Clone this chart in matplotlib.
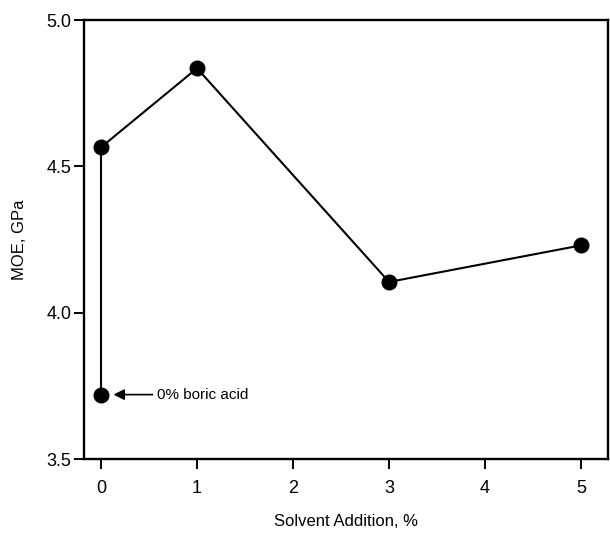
import matplotlib
matplotlib.use("Agg")
import matplotlib.pyplot as plt

plt.rcParams['font.family'] = ['Liberation Sans', 'DejaVu Sans']

solvent = [0, 0, 1, 3, 5]
moe = [3.72, 4.565, 4.835, 4.105, 4.23]
xticks = [0, 1, 2, 3, 4, 5]
yticks = [3.5, 4.0, 4.5, 5.0]
ytick_labels = ["3.5", "4.0", "4.5", "5.0"]

fig = plt.figure(figsize=(6.10, 5.34), dpi=100)
ax = fig.add_axes([84/610, 1-459/534, (608-84)/610, (459-20)/534])

ax.plot(solvent, moe, color='black', lw=1.5, marker='o', ms=10.5,
        markerfacecolor='black', markeredgecolor='black', zorder=3)

ax.set_xlim(-0.177, 5.28)
ax.set_ylim(3.5, 5.0)
ax.set_xticks(xticks)
ax.set_yticks(yticks)
ax.set_yticklabels(ytick_labels)

for s in ax.spines.values():
    s.set_linewidth(1.7)
ax.tick_params(axis='both', direction='out', length=7, width=1.4,
               labelsize=13, colors='black')
ax.tick_params(axis='x', pad=8)
ax.tick_params(axis='y', pad=2)

ax.set_xlabel("Solvent Addition, %", fontsize=12, labelpad=12)
ax.set_ylabel("MOE, GPa", fontsize=12, labelpad=14)

ax.annotate("0% boric acid", xy=(0.13, 3.72), xytext=(0.58, 3.72),
            fontsize=11, va='center', ha='left',
            arrowprops=dict(arrowstyle='-|>', color='black', lw=1.2,
                            mutation_scale=16, shrinkA=1, shrinkB=0))

fig.savefig("out.png", dpi=100)
